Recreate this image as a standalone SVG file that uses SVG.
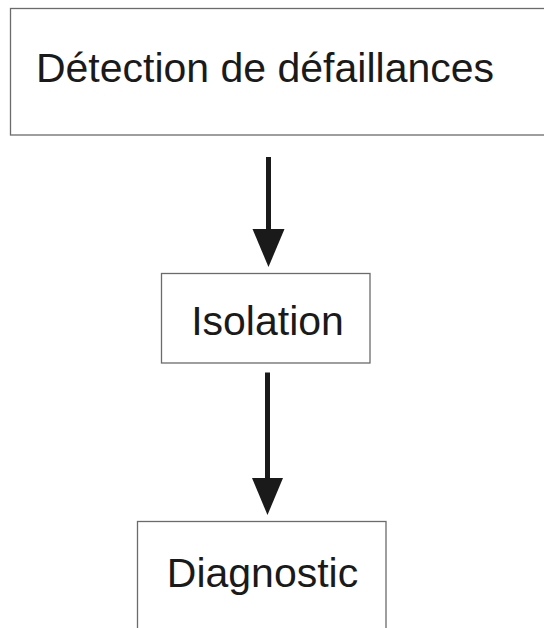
<svg xmlns="http://www.w3.org/2000/svg" width="544" height="628" viewBox="0 0 544 628">
<style>
.box{fill:#fff;stroke:#6b6b6b;stroke-width:1.3}
.lbl{font-family:"Liberation Sans",Arial,sans-serif;font-size:41px;fill:#1a1a1a;text-anchor:middle}
.shaft{stroke:#1a1a1a;stroke-width:5;fill:none}
.head{fill:#1a1a1a}
</style>
<rect width="544" height="628" fill="#fff"/>
<g id="connectors">
<line class="shaft" x1="268.5" y1="157" x2="268.5" y2="232"/>
<polygon class="head" points="252.5,229 284.5,229 268.5,267"/>
<line class="shaft" x1="267.5" y1="372.5" x2="267.5" y2="481"/>
<polygon class="head" points="252,478 283,478 267.5,515"/>
</g>
<g id="node-detection">
<rect class="box" x="10.5" y="8.5" width="560" height="126.5"/>
<text class="lbl" x="265" y="82">Détection de défaillances</text>
</g>
<g id="node-isolation">
<rect class="box" x="161.5" y="273.5" width="208.5" height="89.5"/>
<text class="lbl" x="267.5" y="335">Isolation</text>
</g>
<g id="node-diagnostic">
<rect class="box" x="137.5" y="521.5" width="248.5" height="130"/>
<text class="lbl" x="262.5" y="587">Diagnostic</text>
</g>
</svg>
